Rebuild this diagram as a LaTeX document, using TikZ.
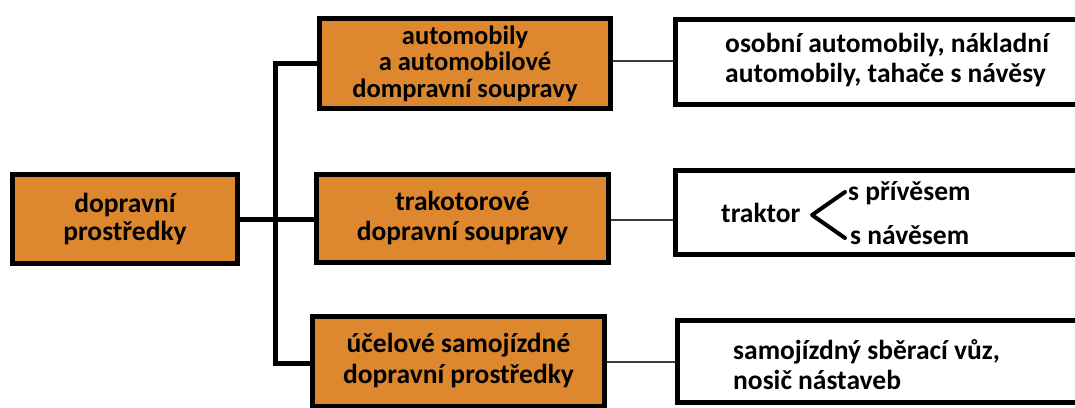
\documentclass[tikz,border=0pt]{standalone}
\usepackage{fontspec}
\setmainfont{Carlito}
\definecolor{boxorange}{RGB}{221,136,46}
\definecolor{thinline}{RGB}{60,60,60}
\begin{document}
\begin{tikzpicture}[x=1pt,y=-1pt,
  obox/.style={draw=black, line width=5pt, fill=boxorange, inner sep=0pt, align=center,
    font=\bfseries\fontsize{27.5}{28}\selectfont, text=black},
  wbox/.style={draw=black, line width=5pt, fill=white, inner sep=0pt},
  lbl/.style={inner sep=0pt, align=left, anchor=west, font=\bfseries\fontsize{27.5}{30}\selectfont, text=black},
  thick/.style={line width=5pt},
  thin/.style={draw=thinline, line width=1.5pt}
]
\useasboundingbox (0,0) rectangle (1075,407);
\clip (0,0) rectangle (1075,407);
% left box
\node[obox, minimum width=225pt, minimum height=89pt] (L) at (125,219) {dopravní\\prostředky};
% middle boxes
\node[obox, minimum width=291pt, minimum height=90pt, font=\bfseries\fontsize{26.5}{26.5}\selectfont] (M1) at (465,63.5) {automobily\\a automobilové\\dompravní soupravy};
\node[obox, minimum width=292pt, minimum height=88pt, font=\bfseries\fontsize{27.5}{30}\selectfont] (M2) at (462.5,218.5) {trakotorové\\dopravní soupravy};
\node[obox, minimum width=292pt, minimum height=90pt, font=\bfseries\fontsize{27.5}{31}\selectfont] (M3) at (458.5,361) {účelové samojízdné\\dopravní prostředky};
% right boxes
\node[wbox, minimum width=402pt, minimum height=85pt] (R1) at (876.5,62) {};
\node[wbox, minimum width=402pt, minimum height=84pt] (R2) at (876.5,212.5) {};
\node[wbox, minimum width=400pt, minimum height=82pt] (R3) at (877.5,361.5) {};
% trunk
\coordinate (J) at (275,219);
\coordinate (T) at (275,63);
\coordinate (B) at (275,363);
\draw[thick] (L.east |- J) -- (J);
\draw[thick] (M1.west |- T) -- (T) -- (B) -- (M3.west |- B);
\draw[thick] (J) -- (M2.west |- J);
% thin connectors
\draw[thin] (M1.east |- 0,61) -- (R1.west |- 0,61);
\draw[thin] (M2.east |- 0,220) -- (R2.west |- 0,220);
\draw[thin] (M3.east |- 0,362) -- (R3.west |- 0,362);
% right texts
\node[lbl] (t1) at (725,60) {osobní automobily, nákladní\\automobily, tahače s návěsy};
\node[lbl] (t2) at (721,213) {traktor};
\node[lbl] (t3) at (848,193) {s přívěsem};
\node[lbl] (t4) at (850,235) {s návěsem};
\node[lbl] (t5) at (733,365) {samojízdný sběrací vůz,\\nosič nástaveb};
\coordinate (ka) at (845,192);
\coordinate (kv) at (812,215);
\coordinate (kb) at (845,238);
\draw[line width=4pt, line cap=round, line join=round] (ka) -- (kv) -- (kb);
\end{tikzpicture}
\end{document}
